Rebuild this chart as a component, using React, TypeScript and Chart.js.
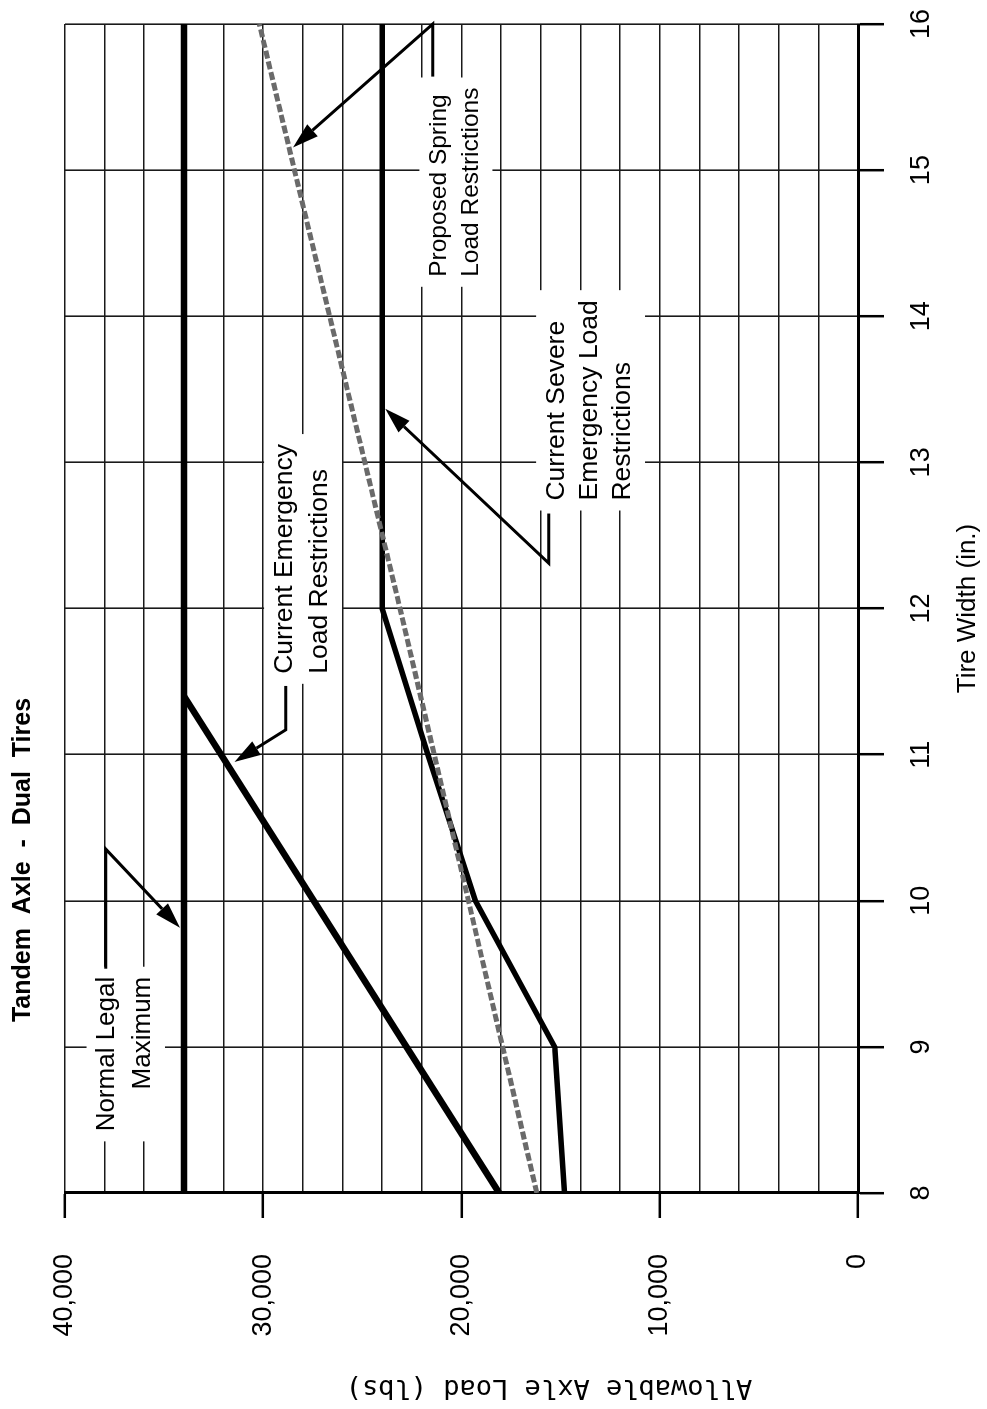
import React, { useEffect, useRef } from 'react';
import { Chart, registerables } from 'chart.js';

Chart.register(...registerables);

// ---- data (tire width in inches, allowable axle load in lbs) ----
const tireTicks = [8, 9, 10, 11, 12, 13, 14, 15, 16];
const loadTicks = [0, 10000, 20000, 30000, 40000];

const normalLegalX = [8, 16];
const normalLegalY = [34000, 34000];

const emergencyX = [8, 11.4];
const emergencyY = [18100, 34000];

const severeX = [8, 9, 10, 11, 12, 16];
const severeY = [14800, 15300, 19300, 21700, 24000, 24000];

const springX = [8, 12, 16];
const springY = [16200, 23100, 30200];

const chartTitle = 'Tandem  Axle  -  Dual  Tires';
const xTitle = 'Tire Width (in.)';
const yTitle = 'Allowable Axle Load (lbs)';

// annotation labels, anchored in data coordinates
const noteText = [
  { lines: ['Normal Legal', 'Maximum'], x: 9.48, y: 37515, align: 'right', size: 26, gap: 36 },
  { lines: ['Current Emergency', 'Load Restrictions'], x: 11.553, y: 28542, align: 'left', size: 26.5, gap: 35 },
  { lines: ['Current Severe', 'Emergency Load', 'Restrictions'], x: 12.739, y: 14820, align: 'left', size: 26.5, gap: 33 },
  { lines: ['Proposed Spring', 'Load Restrictions'], x: 14.27, y: 20780, align: 'left', size: 24.5, gap: 32 },
];

// leader lines with arrow heads (last point is the arrow tip)
const notePointers = [
  [[9.535, 37950], [10.354, 37950], [9.815, 34200]],
  [[11.47, 28863], [11.17, 28863], [10.95, 31450]],
  [[12.65, 15600], [12.31, 15600], [13.367, 23850]],
  [[15.64, 21450], [16.0, 21450], [15.155, 28500]],
];

const SANS = '"Liberation Sans", Arial, Helvetica, sans-serif';
const MONO = '"DejaVu Sans Mono", monospace';

const toPoints = (xs: number[], ys: number[]) => xs.map((x, i) => ({ x, y: ys[i] }));

const annotate = {
  id: 'annotate',
  beforeDatasetsDraw(chart: any) {
    const { ctx } = chart;
    const xs = chart.scales.x;
    const ys = chart.scales.y;
    ctx.save();
    ctx.fillStyle = '#ffffff';
    for (const n of noteText) {
      const x0 = xs.getPixelForValue(n.x);
      const y0 = ys.getPixelForValue(n.y);
      ctx.font = `${n.size}px ${SANS}`;
      const w = Math.max(...n.lines.map((l) => ctx.measureText(l).width));
      const left = n.align === 'left' ? x0 : x0 - w;
      const top = y0 - n.size * 0.72;
      const h = n.size * 0.72 + (n.lines.length - 1) * n.gap + n.size * 0.22;
      ctx.fillRect(left - 10, top - 9, w + 20, h + 18);
    }
    ctx.restore();
  },
  afterDatasetsDraw(chart: any) {
    const { ctx } = chart;
    const xs = chart.scales.x;
    const ys = chart.scales.y;
    ctx.save();
    ctx.fillStyle = '#000';
    ctx.textBaseline = 'alphabetic';
    for (const n of noteText) {
      const x0 = xs.getPixelForValue(n.x);
      const y0 = ys.getPixelForValue(n.y);
      ctx.font = `${n.size}px ${SANS}`;
      ctx.textAlign = n.align as CanvasTextAlign;
      n.lines.forEach((l, i) => ctx.fillText(l, x0, y0 + i * n.gap));
    }
    ctx.strokeStyle = '#000';
    ctx.lineWidth = 3;
    ctx.lineJoin = 'miter';
    for (const p of notePointers) {
      const pts = p.map(([x, y]) => [xs.getPixelForValue(x), ys.getPixelForValue(y)]);
      const n = pts.length;
      const [tx, ty] = pts[n - 1];
      const [sx, sy] = pts[n - 2];
      const ang = Math.atan2(ty - sy, tx - sx);
      const L = 26;
      const Wd = 8;
      const bx = tx - L * Math.cos(ang);
      const by = ty - L * Math.sin(ang);
      ctx.beginPath();
      ctx.moveTo(pts[0][0], pts[0][1]);
      for (let i = 1; i < n - 1; i++) ctx.lineTo(pts[i][0], pts[i][1]);
      ctx.lineTo(bx, by);
      ctx.stroke();
      ctx.beginPath();
      ctx.moveTo(tx, ty);
      ctx.lineTo(bx + Wd * Math.sin(ang), by - Wd * Math.cos(ang));
      ctx.lineTo(bx - Wd * Math.sin(ang), by + Wd * Math.cos(ang));
      ctx.closePath();
      ctx.fill();
    }
    ctx.restore();
  },
  afterDraw(chart: any) {
    const { ctx, chartArea } = chart;
    ctx.save();
    ctx.fillStyle = '#000';
    ctx.textAlign = 'center';
    ctx.textBaseline = 'middle';
    ctx.font = `bold 25px ${SANS}`;
    ctx.fillText(chartTitle, 549, 23);
    ctx.font = `26px ${SANS}`;
    ctx.fillText(xTitle, (chartArea.left + chartArea.right) / 2, 968);
    ctx.translate(22, 549);
    ctx.rotate(-Math.PI / 2);
    ctx.font = `27px ${MONO}`;
    ctx.fillText(yTitle, 0, 0);
    ctx.restore();
  },
};

export default function App() {
  const ref = useRef<HTMLCanvasElement | null>(null);

  useEffect(() => {
    if (!ref.current) return;
    const chart = new Chart(ref.current, {
      type: 'line',
      data: {
        datasets: [
          {
            label: 'Proposed Spring Load Restrictions',
            data: toPoints(springX, springY),
            borderColor: '#6a6a6a',
            borderWidth: 5,
            borderDash: [8, 3],
            pointRadius: 0,
          },
          {
            label: 'Normal Legal Maximum',
            data: toPoints(normalLegalX, normalLegalY),
            borderColor: '#000',
            borderWidth: 6.5,
            pointRadius: 0,
          },
          {
            label: 'Current Emergency Load Restrictions',
            data: toPoints(emergencyX, emergencyY),
            borderColor: '#000',
            borderWidth: 6.5,
            pointRadius: 0,
          },
          {
            label: 'Current Severe Emergency Load Restrictions',
            data: toPoints(severeX, severeY),
            borderColor: '#000',
            borderWidth: 5.5,
            borderJoinStyle: 'round',
            pointRadius: 0,
          },
        ],
      },
      options: {
        animation: false,
        responsive: false,
        devicePixelRatio: 1,
        parsing: true,
        layout: { padding: { top: 65, right: 24, left: 0, bottom: 0 } },
        plugins: { legend: { display: false }, tooltip: { enabled: false }, title: { display: false } },
        scales: {
          x: {
            type: 'linear',
            min: tireTicks[0],
            max: tireTicks[tireTicks.length - 1],
            afterBuildTicks: (s: any) => {
              s.ticks = tireTicks.map((v) => ({ value: v }));
            },
            afterFit: (s: any) => {
              s.height = 129;
              s.paddingLeft = 0;
              s.paddingRight = 0;
            },
            ticks: {
              color: '#000',
              font: { family: SANS, size: 27 },
              padding: 21,
              maxRotation: 0,
              autoSkip: false,
              callback: (v: any) => String(v),
            },
            grid: {
              color: '#1a1a1a',
              lineWidth: 1.6,
              tickLength: 26,
              tickColor: '#000',
              tickWidth: 2.5,
            },
            border: { display: true, color: '#000', width: 3 },
          },
          y: {
            type: 'linear',
            min: loadTicks[0],
            max: loadTicks[loadTicks.length - 1],
            ticks: {
              stepSize: 2000,
              color: '#000',
              font: { family: SANS, size: 27 },
              padding: 36,
              autoSkip: false,
              callback: (v: any) => (loadTicks.includes(Number(v)) ? Number(v).toLocaleString('en-US') : ''),
            },
            afterFit: (s: any) => {
              s.width = 216;
              s.paddingTop = 0;
              s.paddingBottom = 0;
            },
            grid: {
              color: '#1a1a1a',
              lineWidth: 1.6,
              tickLength: 25,
              tickColor: (c: any) => (c.tick && loadTicks.includes(c.tick.value) ? '#000' : 'rgba(0,0,0,0)'),
              tickWidth: 2.5,
            },
            border: { display: true, color: '#000', width: 3 },
          },
        },
      },
      plugins: [annotate],
    } as any);
    return () => chart.destroy();
  }, []);

  return (
    <div style={{ position: 'absolute', left: 0, top: 0, width: 987, height: 1409, overflow: 'hidden', background: '#fff' }}>
      <div
        style={{
          position: 'absolute',
          left: -211,
          top: 211,
          width: 1409,
          height: 987,
          transform: 'rotate(-90deg)',
          transformOrigin: '50% 50%',
        }}
      >
        <canvas ref={ref} width={1409} height={987} style={{ display: 'block', width: 1409, height: 987 }} />
      </div>
    </div>
  );
}
